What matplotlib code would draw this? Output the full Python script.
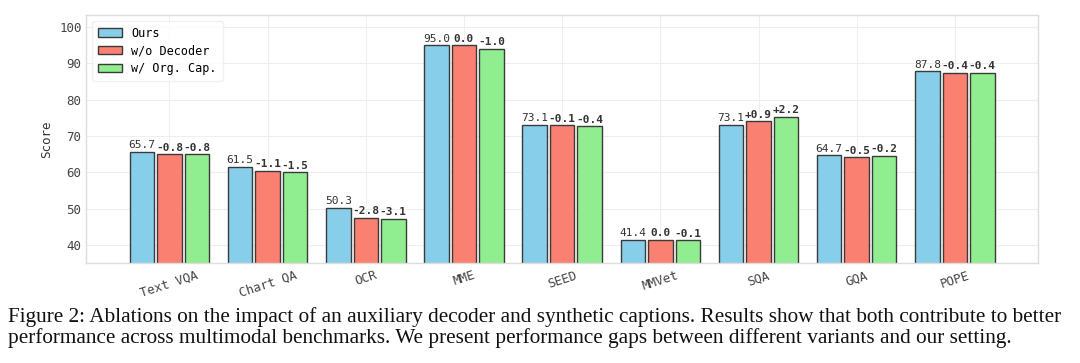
import numpy as np
import matplotlib.pyplot as plt

# =============== Data ===============
BENCHMARKS = ["Text VQA", "Chart QA", "OCR", "MME", "SEED", "MMVet", "SQA", "GQA", "POPE"]
OURS       = [65.7, 61.5, 50.3, 95.0, 73.1, 41.4, 73.1, 64.7, 87.8]
DELTA_NO_DECODER = [-0.8, -1.1, -2.8, 0.0, -0.1, 0.0, 0.9, -0.5, -0.4]
DELTA_ORG_CAP    = [-0.8, -1.5, -3.1, -1.0, -0.4, -0.1, 2.2, -0.2, -0.4]

SERIES_LABELS = ["Ours", "w/o Decoder", "w/ Org. Cap."]
COLORS = ["#87CEEB", "#FA8072", "#90EE90"]

CAPTION_LINES = [
    "Figure 2: Ablations on the impact of an auxiliary decoder and synthetic captions. "
    "Results show that both contribute to better",
    "performance across multimodal benchmarks. We present performance gaps between "
    "different variants and our setting.",
]

# =============== Style ===============
plt.rcParams["font.family"] = ["DejaVu Sans Mono"]
plt.rcParams["axes.edgecolor"] = "#dddddd"
plt.rcParams["axes.linewidth"] = 1.0

ours = np.array(OURS)
no_dec = ours + np.array(DELTA_NO_DECODER)
org_cap = ours + np.array(DELTA_ORG_CAP)

x = np.arange(len(BENCHMARKS))
width = 0.25
offset = 0.28

fig = plt.figure(figsize=(10.8, 3.63), dpi=100)
ax = fig.add_axes([0.080, 0.275, 0.881, 0.684])

ax.set_axisbelow(True)
ax.grid(True, color="#eeeeee", linewidth=0.8)

bars = []
for i, (vals, col, lab) in enumerate(zip([ours, no_dec, org_cap], COLORS, SERIES_LABELS)):
    b = ax.bar(x + (i - 1) * offset, vals, width, color=col, edgecolor="#3a3a3a",
               linewidth=1.0, label=lab)
    bars.append(b)

# value labels: absolute for Ours, gaps for the variants
for rect, v in zip(bars[0], ours):
    ax.text(rect.get_x() + rect.get_width() / 2, v + 0.4, f"{v:.1f}",
            ha="center", va="bottom", fontsize=8, color="#333333")
for b, deltas, vals in [(bars[1], DELTA_NO_DECODER, no_dec), (bars[2], DELTA_ORG_CAP, org_cap)]:
    for rect, d, v in zip(b, deltas, vals):
        txt = f"+{d:.1f}" if d > 0 else f"{d:.1f}"
        ax.text(rect.get_x() + rect.get_width() / 2, v + 0.4, txt,
                ha="center", va="bottom", fontsize=8, fontweight="bold", color="#333333")

ax.set_ylim(35, 103.3)
ax.set_yticks([40, 50, 60, 70, 80, 90, 100])
ax.set_xticks(x)
ax.set_xticklabels(BENCHMARKS, rotation=18, fontsize=9, color="#444444")
ax.tick_params(axis="y", labelsize=9, colors="#444444", length=0)
ax.tick_params(axis="x", length=0, pad=4)
ax.set_ylabel("Score", fontsize=9, color="#333333", labelpad=4)

ax.legend(loc="upper left", fontsize=8.5, frameon=True, framealpha=0.8,
          edgecolor="#eeeeee", handlelength=2.0, borderpad=0.5, labelspacing=0.4)

# caption below the chart
fig.text(0.007, 1 - 322 / 363, CAPTION_LINES[0], fontsize=15.3, family="Liberation Serif",
         ha="left", va="baseline", color="#111111")
fig.text(0.007, 1 - 343 / 363, CAPTION_LINES[1], fontsize=15.3, family="Liberation Serif",
         ha="left", va="baseline", color="#111111")

plt.savefig("out.png", dpi=100)
plt.close()
